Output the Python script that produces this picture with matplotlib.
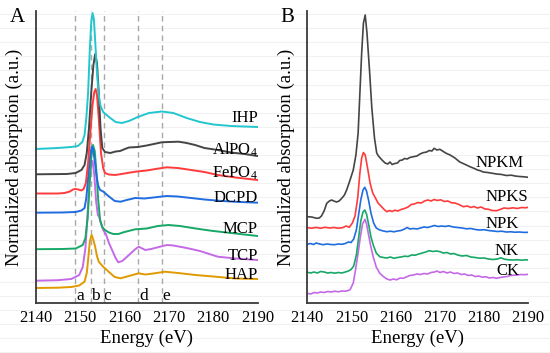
import matplotlib
matplotlib.use("Agg")
import matplotlib.pyplot as plt
from matplotlib.lines import Line2D

plt.rcParams["font.family"] = ["Liberation Serif", "DejaVu Serif"]
plt.rcParams["mathtext.fontset"] = "custom"
plt.rcParams["mathtext.rm"] = "Liberation Serif"
plt.rcParams["mathtext.it"] = "Liberation Serif:italic"

# ---- panel A: P K-edge XANES of reference compounds ----
e_ihp = [2140, 2145, 2148, 2149.5, 2150.5, 2151.0, 2151.4, 2151.8, 2152.2, 2152.5, 2152.8, 2153.1,
         2153.4, 2153.8, 2154.2, 2154.6, 2155.2, 2156.5, 2158, 2159.4, 2161, 2163, 2165.5, 2168.4,
         2171, 2174, 2177, 2180, 2184, 2190]
a_ihp = [1.54, 1.55, 1.56, 1.57, 1.61, 1.68, 1.85, 2.10, 2.55, 2.80, 2.90, 2.84,
         2.62, 2.30, 2.08, 1.97, 1.91, 1.86, 1.81, 1.80, 1.82, 1.86, 1.90, 1.915,
         1.90, 1.85, 1.81, 1.785, 1.77, 1.76]

e_alpo4 = [2140, 2147, 2149, 2150.3, 2151.0, 2151.5, 2152.0, 2152.5, 2153.0, 2153.4, 2153.8, 2154.2,
           2154.6, 2155.0, 2155.6, 2156.8, 2158, 2159, 2160.1, 2161, 2163, 2165, 2168.4, 2170,
           2172.2, 2174, 2175.9, 2178, 2181, 2184, 2187, 2190]
a_alpo4 = [1.287, 1.29, 1.30, 1.33, 1.38, 1.50, 1.75, 2.10, 2.38, 2.49, 2.40, 2.10,
           1.75, 1.55, 1.51, 1.50, 1.515, 1.52, 1.54, 1.555, 1.56, 1.575, 1.607, 1.61,
           1.613, 1.60, 1.58, 1.55, 1.53, 1.505, 1.49, 1.47]

e_fepo4 = [2140, 2145, 2146.5, 2147.7, 2148.4, 2148.9, 2149.6, 2150.3, 2150.8, 2151.3, 2151.8, 2152.3,
           2152.8, 2153.2, 2153.5, 2153.8, 2154.2, 2154.7, 2155.2, 2155.6, 2156.5, 2157.9, 2160, 2162.4,
           2165, 2167, 2169.5, 2172, 2175, 2178, 2181, 2185, 2190]
a_fepo4 = [1.095, 1.095, 1.10, 1.115, 1.135, 1.14, 1.135, 1.125, 1.14, 1.20, 1.40, 1.70,
           1.98, 2.11, 2.14, 2.08, 1.85, 1.50, 1.35, 1.30, 1.285, 1.28, 1.295, 1.313,
           1.325, 1.34, 1.357, 1.35, 1.33, 1.31, 1.28, 1.255, 1.23]

e_dcpd = [2140, 2146, 2149, 2150.3, 2151.0, 2151.4, 2151.8, 2152.2, 2152.6, 2152.9, 2153.3, 2153.7,
          2154.1, 2154.5, 2155.2, 2156.5, 2157.8, 2159.1, 2160.5, 2162.4, 2164.5, 2166.5, 2169.5, 2172,
          2175, 2178, 2182, 2186, 2190]
a_dcpd = [0.903, 0.905, 0.91, 0.925, 0.95, 1.05, 1.25, 1.45, 1.56, 1.55, 1.42, 1.27,
          1.17, 1.13, 1.115, 1.065, 1.02, 1.013, 1.03, 1.05, 1.045, 1.055, 1.07, 1.065,
          1.05, 1.035, 1.02, 1.01, 1.003]

e_mcp = [2140, 2146, 2149, 2150.6, 2151.2, 2151.7, 2152.1, 2152.5, 2152.9, 2153.3, 2153.7, 2154.1,
         2154.5, 2155.0, 2155.6, 2156.5, 2157.5, 2158.6, 2160, 2162.4, 2165, 2167.5, 2169.9, 2172.5,
         2176, 2180, 2184, 2190]
a_mcp = [0.538, 0.54, 0.545, 0.58, 0.65, 0.85, 1.15, 1.45, 1.58, 1.52, 1.30, 1.02,
         0.83, 0.76, 0.73, 0.705, 0.69, 0.69, 0.71, 0.737, 0.745, 0.77, 0.78, 0.77,
         0.745, 0.72, 0.70, 0.67]

e_tcp = [2140, 2145, 2148, 2149.8, 2150.6, 2151.2, 2151.7, 2152.1, 2152.5, 2152.8, 2153.2, 2153.6,
         2154.0, 2154.3, 2154.8, 2155.2, 2155.8, 2156.5, 2157.2, 2158, 2158.6, 2159.5, 2160.5, 2161.5,
         2162.4, 2163.2, 2164, 2164.7, 2166, 2168, 2169.6, 2171, 2174, 2177, 2181, 2185, 2190]
a_tcp = [0.223, 0.228, 0.24, 0.28, 0.36, 0.55, 0.90, 1.22, 1.40, 1.42, 1.28, 1.02,
         0.88, 0.86, 0.78, 0.73, 0.69, 0.60, 0.53, 0.45, 0.407, 0.42, 0.46, 0.50,
         0.537, 0.563, 0.545, 0.53, 0.54, 0.563, 0.58, 0.575, 0.55, 0.52, 0.463, 0.445, 0.43]

e_hap = [2140, 2145, 2148, 2149.8, 2151, 2151.5, 2151.8, 2152.2, 2152.6, 2153.0, 2153.4, 2153.8,
         2154.2, 2155.2, 2156.5, 2157.8, 2159.1, 2161, 2163.2, 2164.7, 2166.5, 2169.1, 2172, 2176,
         2180, 2185, 2190]
a_hap = [0.15, 0.153, 0.16, 0.175, 0.213, 0.30, 0.43, 0.62, 0.68, 0.63, 0.56, 0.47,
         0.413, 0.363, 0.31, 0.26, 0.247, 0.27, 0.297, 0.285, 0.295, 0.313, 0.30, 0.28,
         0.265, 0.245, 0.24]

names_a = ["IHP", "AlPO$_4$", "FePO$_4$", "DCPD", "MCP", "TCP", "HAP"]
label_y_a = [1.807, 1.48, 1.257, 1.013, 0.697, 0.43, 0.243]
peak_e = [2148.8, 2152.4, 2155.3, 2163.1, 2168.4]
peak_names = ["a", "b", "c", "d", "e"]
peak_label_e = [2150.0, 2153.5, 2156.2, 2164.4, 2169.5]

# ---- panel B: soils under fertilisation treatments ----
e_npkm = [2140, 2141, 2142.1, 2142.7, 2143.2, 2143.8, 2144.4, 2145, 2145.5, 2146, 2146.6, 2147.2,
          2147.8, 2148.4, 2148.9, 2149.6, 2150.4, 2151.0, 2151.5, 2152.0, 2152.3, 2152.7, 2153.1, 2153.5,
          2154.1, 2154.6, 2155.2, 2155.7, 2156.1, 2156.9, 2157.6, 2158.2, 2158.7, 2159.2, 2159.8, 2160.4,
          2160.9, 2161.5, 2162, 2162.6, 2163.2, 2164, 2164.8, 2165.5, 2166.2, 2167, 2167.6, 2168.2,
          2168.7, 2169.3, 2170, 2170.6, 2171.3, 2172.3, 2173.4, 2174.5, 2175.5, 2176.8, 2177.8, 2178.5,
          2179.1, 2179.8, 2180.8, 2181.5, 2182.8, 2184, 2185, 2186.2, 2187, 2188, 2189, 2190]
a_npkm = [0.863, 0.86, 0.847, 0.85, 0.87, 0.92, 0.997, 1.02, 1.03, 1.02, 1.01, 1.02,
          1.047, 1.08, 1.13, 1.22, 1.33, 1.48, 1.70, 2.20, 2.50, 2.80, 2.88, 2.70,
          2.31, 1.95, 1.65, 1.50, 1.47, 1.43, 1.40, 1.39, 1.41, 1.385, 1.395, 1.40,
          1.425, 1.43, 1.445, 1.44, 1.455, 1.463, 1.47, 1.49, 1.503, 1.51, 1.525, 1.52,
          1.547, 1.53, 1.537, 1.52, 1.50, 1.48, 1.45, 1.41, 1.39, 1.363, 1.345, 1.33,
          1.323, 1.31, 1.305, 1.30, 1.29, 1.285, 1.275, 1.278, 1.27, 1.265, 1.262, 1.257]

e_npks = [2140, 2141, 2142, 2143, 2144, 2145, 2146, 2147, 2148, 2148.8, 2149.5, 2150.2,
          2150.8, 2151.4, 2151.9, 2152.3, 2152.7, 2153.1, 2153.6, 2154.2, 2154.8, 2155.3, 2156, 2156.8,
          2157.4, 2158, 2158.6, 2159.2, 2159.8, 2160.5, 2161.2, 2162, 2162.8, 2163.5, 2164.2, 2165,
          2165.8, 2166.5, 2167.3, 2168, 2168.7, 2169.4, 2170.2, 2171, 2171.8, 2172.6, 2173.4, 2174.3,
          2175.3, 2176.2, 2177, 2177.7, 2178.5, 2179.3, 2180.2, 2181, 2181.8, 2182.8, 2183.6, 2184.5,
          2185.5, 2186.5, 2187.5, 2188.5, 2189.3, 2190]
a_npks = [0.753, 0.748, 0.756, 0.747, 0.757, 0.75, 0.755, 0.748, 0.753, 0.77, 0.757, 0.80,
          0.87, 1.05, 1.30, 1.45, 1.505, 1.48, 1.36, 1.20, 1.10, 1.06, 1.00, 0.963,
          0.935, 0.913, 0.925, 0.915, 0.928, 0.92, 0.935, 0.945, 0.96, 0.985, 0.99, 1.005,
          1.00, 1.02, 1.03, 1.02, 1.035, 1.025, 1.032, 1.015, 1.02, 1.003, 1.0, 0.985,
          0.963, 0.97, 0.955, 0.965, 0.95, 0.96, 0.94, 0.937, 0.925, 0.923, 0.935, 0.95,
          0.945, 0.952, 0.945, 0.955, 0.952, 0.957]

e_npk = [2140, 2140.7, 2141.4, 2142, 2142.8, 2143.6, 2144.5, 2145.3, 2146.2, 2147, 2147.8, 2148.6,
         2149.3, 2149.9, 2150.5, 2151.1, 2151.6, 2152.1, 2152.6, 2153.0, 2153.4, 2153.9, 2154.4, 2155,
         2155.6, 2156.4, 2157.2, 2158, 2158.8, 2159.6, 2160.4, 2161.2, 2162, 2162.6, 2163.2, 2164,
         2164.8, 2165.6, 2166.4, 2167.2, 2168, 2168.8, 2169.6, 2170.4, 2171.2, 2172, 2173, 2174,
         2175, 2176, 2177, 2178, 2179, 2180, 2181, 2182, 2183, 2184, 2185, 2186, 2187, 2188, 2189, 2190]
a_npk = [0.587, 0.595, 0.585, 0.60, 0.59, 0.583, 0.59, 0.585, 0.583, 0.59, 0.587, 0.595,
         0.61, 0.605, 0.64, 0.73, 0.88, 1.03, 1.13, 1.157, 1.12, 1.02, 0.90, 0.80,
         0.75, 0.73, 0.72, 0.713, 0.718, 0.712, 0.72, 0.725, 0.74, 0.755, 0.74, 0.745,
         0.74, 0.75, 0.76, 0.755, 0.765, 0.775, 0.765, 0.77, 0.765, 0.772, 0.76, 0.755,
         0.75, 0.742, 0.745, 0.735, 0.73, 0.733, 0.725, 0.72, 0.715, 0.718, 0.71, 0.712, 0.708, 0.71,
         0.706, 0.707]

e_nk = [2140, 2140.8, 2141.5, 2142.3, 2143, 2143.8, 2144.6, 2145.4, 2146.2, 2147, 2147.8, 2148.6,
        2149.3, 2149.9, 2150.5, 2151.1, 2151.6, 2152.1, 2152.6, 2153.0, 2153.4, 2153.9, 2154.4, 2155,
        2155.6, 2156.4, 2157.2, 2158, 2158.8, 2159.6, 2160.4, 2161.2, 2162, 2162.8, 2163.6, 2164.4,
        2165.2, 2166, 2166.8, 2167.6, 2168.4, 2169.2, 2170, 2170.8, 2171.6, 2172.4, 2173.2, 2174,
        2175, 2176, 2177, 2178, 2179, 2180, 2181, 2182, 2183, 2183.8, 2184.6, 2185.5, 2186.5, 2187.5,
        2188.5, 2189.3, 2190]
a_nk = [0.307, 0.30, 0.31, 0.30, 0.315, 0.31, 0.30, 0.305, 0.298, 0.305, 0.30, 0.31,
        0.32, 0.335, 0.37, 0.48, 0.65, 0.82, 0.91, 0.93, 0.89, 0.78, 0.66, 0.57,
        0.50, 0.463, 0.455, 0.45, 0.46, 0.447, 0.455, 0.46, 0.468, 0.465, 0.48, 0.478,
        0.49, 0.50, 0.51, 0.523, 0.515, 0.52, 0.513, 0.50, 0.505, 0.49, 0.495, 0.48,
        0.47, 0.475, 0.46, 0.455, 0.448, 0.45, 0.44, 0.435, 0.44, 0.452, 0.438, 0.432, 0.43, 0.433,
        0.428, 0.432, 0.43]

e_ck = [2140, 2140.8, 2141.5, 2142.3, 2143, 2143.8, 2144.6, 2145.4, 2146.2, 2147, 2147.8, 2148.6,
        2149.3, 2149.7, 2150.4, 2150.9, 2151.5, 2152.0, 2152.5, 2153.05, 2153.4, 2153.8, 2154.3, 2154.9,
        2155.6, 2156.4, 2157.2, 2158, 2158.7, 2159.5, 2160.2, 2161, 2161.7, 2162.4, 2163.2, 2164,
        2164.8, 2165.6, 2166.4, 2167.2, 2168, 2168.8, 2169.3, 2170, 2170.8, 2171.6, 2172.4, 2173.2,
        2174, 2174.8, 2175.6, 2176.4, 2177.2, 2178, 2178.8, 2179.6, 2180.4, 2181.2, 2182, 2182.8,
        2183.6, 2184.4, 2185.2, 2186, 2186.8, 2187.6, 2188.4, 2189.2, 2190]
a_ck = [0.097, 0.09, 0.105, 0.10, 0.11, 0.105, 0.115, 0.11, 0.118, 0.112, 0.12, 0.118,
        0.125, 0.135, 0.20, 0.33, 0.50, 0.66, 0.79, 0.837, 0.79, 0.697, 0.58, 0.463,
        0.36, 0.297, 0.265, 0.24, 0.23, 0.24, 0.232, 0.25, 0.247, 0.26, 0.275, 0.28,
        0.29, 0.285, 0.295, 0.29, 0.305, 0.31, 0.32, 0.305, 0.315, 0.30, 0.31, 0.295,
        0.3, 0.285, 0.29, 0.275, 0.28, 0.265, 0.27, 0.258, 0.262, 0.25, 0.255, 0.247,
        0.255, 0.26, 0.265, 0.275, 0.278, 0.28, 0.285, 0.283, 0.287]

names_b = ["NPKM", "NPKS", "NPK", "NK", "CK"]
label_y_b = [1.363, 1.02, 0.747, 0.48, 0.28]
label_x_b = [2189.0, 2189.9, 2187.9, 2187.9, 2187.9]

colors_a = ["#22c6cf", "#454545", "#ff3b3b", "#1f6de0", "#17a868", "#c46ae6", "#e09a00"]
colors_b = ["#454545", "#ff3b3b", "#1f6de0", "#17a868", "#c46ae6"]

W, H = 550, 353
fig = plt.figure(figsize=(W / 100, H / 100), dpi=100)

# faint horizontal background lines seen in the source image
for k in range(25):
    yy = 1 - (14 + 14.1 * k) / H
    fig.add_artist(Line2D([0, 1], [yy, yy], transform=fig.transFigure,
                          color="#f1f1f1", lw=0.8, zorder=-10))

axA = fig.add_axes([35.7 / W, 50 / H, 222 / W, 292 / H])
axB = fig.add_axes([307.3 / W, 50 / H, 221 / W, 292 / H])
for ax in (axA, axB):
    ax.patch.set_alpha(0)
    ax.set_xlim(2140, 2190)
    ax.set_ylim(0, 2.92)
    ax.set_xticks([2140, 2150, 2160, 2170, 2180, 2190])
    ax.set_yticks([])
    ax.tick_params(axis="x", length=0, pad=5, labelsize=12)
    for s in ("top", "right"):
        ax.spines[s].set_visible(False)
    for s in ("left", "bottom"):
        ax.spines[s].set_color("#3a3a3a")
        ax.spines[s].set_linewidth(1.3)
    ax.set_xlabel("Energy (eV)", fontsize=13.5, labelpad=3)
    ax.set_ylabel("Normalized absorption (a.u.)", fontsize=13.5, labelpad=9)

for xe in peak_e:
    axA.axvline(xe, color="#a8a8a8", lw=1.0, ls=(0, (4, 3)), zorder=1)

series_a = [(e_ihp, a_ihp), (e_alpo4, a_alpo4), (e_fepo4, a_fepo4), (e_dcpd, a_dcpd),
            (e_mcp, a_mcp), (e_tcp, a_tcp), (e_hap, a_hap)]
# draw bottom curves first so upper ones sit on top, as in the source
for (ex, ay), c in reversed(list(zip(series_a, colors_a))):
    axA.plot(ex, ay, color=c, lw=1.4, zorder=2)
for name, yl in zip(names_a, label_y_a):
    axA.text(2190, yl, name, ha="right", va="baseline", fontsize=12, zorder=3)
for lab, xl in zip(peak_names, peak_label_e):
    axA.text(xl, 0.025, lab, ha="center", va="baseline", fontsize=12.5)

series_b = [(e_npkm, a_npkm), (e_npks, a_npks), (e_npk, a_npk), (e_nk, a_nk), (e_ck, a_ck)]
for (ex, ay), c in reversed(list(zip(series_b, colors_b))):
    axB.plot(ex, ay, color=c, lw=1.2, zorder=2)
for name, yl, xl in zip(names_b, label_y_b, label_x_b):
    axB.text(xl, yl, name, ha="right", va="baseline", fontsize=12)

fig.text(10 / W, 1 - 22 / H, "A", fontsize=15, ha="left", va="baseline")
fig.text(280.5 / W, 1 - 22 / H, "B", fontsize=15, ha="left", va="baseline")

fig.savefig("out.png", dpi=100)
